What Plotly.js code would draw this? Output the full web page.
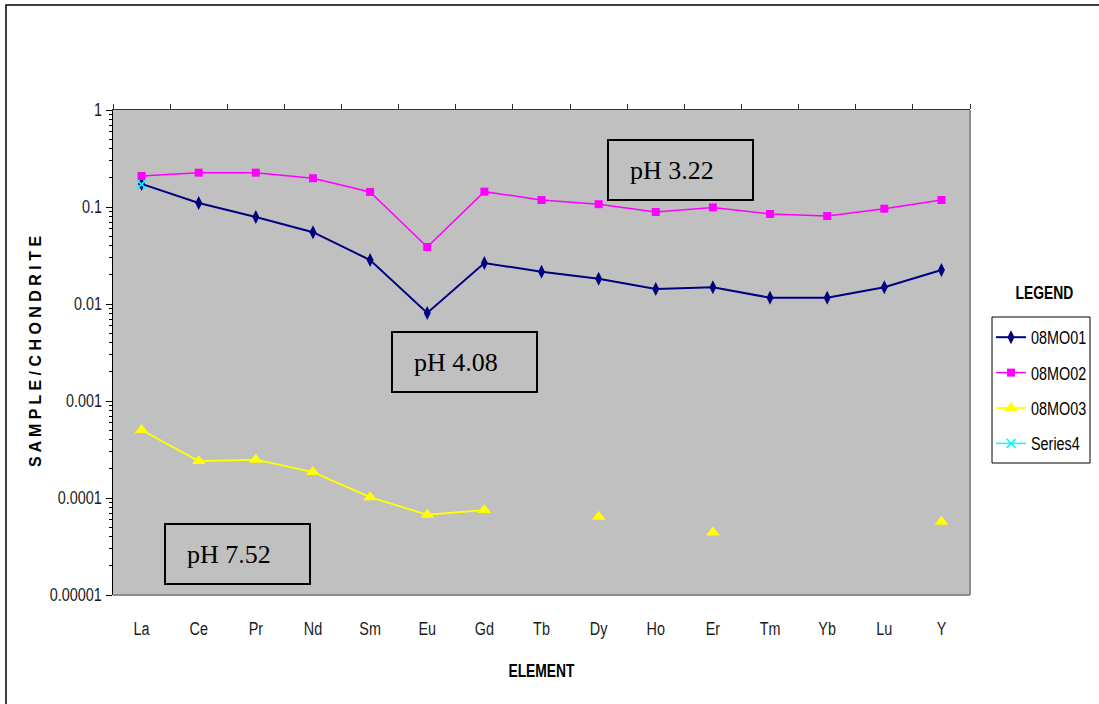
<!DOCTYPE html>
<html>
<head>
<meta charset="utf-8">
<script src="https://cdn.plot.ly/plotly-3.0.1.min.js"></script>
<style>html,body{margin:0;padding:0;background:#fff;}#chart{width:1099px;height:704px;}</style>
</head>
<body>
<div id="chart"></div>
<script>
const elements = ['La','Ce','Pr','Nd','Sm','Eu','Gd','Tb','Dy','Ho','Er','Tm','Yb','Lu','Y'];
const mo01 = [0.173,0.11,0.079,0.055,0.0284,0.0081,0.0265,0.0215,0.0182,0.0143,0.0149,0.0116,0.0116,0.0149,0.0224];
const mo02 = [0.209,0.226,0.226,0.198,0.143,0.0387,0.144,0.118,0.107,0.0888,0.099,0.0847,0.0807,0.096,0.118];
const mo03 = [0.000502,0.00024,0.000248,0.000185,0.000102,0.0000672,0.000075,null,0.000064,null,0.000044,null,null,null,0.000057];
const series4 = [0.171,null,null,null,null,null,null,null,null,null,null,null,null,null,null];
const seriesNames = ['08MO01','08MO02','08MO03','Series4'];
const yTickVals = [1,0.1,0.01,0.001,0.0001,0.00001];
const yTickText = ['1','0.1','0.01','0.001','0.0001','0.00001'];
const phLabels = ['pH 3.22','pH 4.08','pH 7.52'];

const W = 1099, H = 704;
const L = 113, R = 970, T = 110, B = 595;
const px = v => (v - L) / (R - L);
const py = v => (B - v) / (B - T);
const sans = 'Liberation Sans, Arial, sans-serif';

const traces = [
  {x: elements, y: mo01, name: seriesNames[0], type: 'scatter', mode: 'lines+markers', legendgroup: 'a',
   line: {color: '#000080', width: 2}, marker: {symbol: 'diamond-tall', size: 10, color: '#000080'}},
  {x: elements, y: mo02, name: seriesNames[1], type: 'scatter', mode: 'lines+markers', legendgroup: 'b',
   line: {color: '#FF00FF', width: 1.5}, marker: {symbol: 'square', size: 8, color: '#FF00FF'}},
  {x: elements, y: mo03, name: seriesNames[2], type: 'scatter', mode: 'lines+markers', legendgroup: 'c', connectgaps: false,
   line: {color: '#FFFF00', width: 1.8}, marker: {symbol: 'triangle-up', size: 12, color: '#FFFF00'}},
  {x: elements, y: series4, name: seriesNames[3], type: 'scatter', mode: 'lines+markers', legendgroup: 'd',
   line: {color: '#00FFFF', width: 1.5}, marker: {symbol: 'x-thin', size: 9, line: {color: '#00FFFF', width: 1.5}, color: '#00FFFF'}},
  {x: [], y: [], xaxis: 'x2', yaxis: 'y', showlegend: false, hoverinfo: 'skip', type: 'scatter'}
];

const boundaries = [];
for (let i = 0; i <= elements.length; i++) boundaries.push(i - 0.5);

const boxes = [[608,140,753,200],[392,332,537,392],[165,524,310,584]];
const shapes = [
  {type: 'rect', xref: 'paper', yref: 'paper', x0: px(6), y0: py(5), x1: px(W + 20), y1: py(H + 20),
   line: {color: '#000', width: 1.5}, fillcolor: 'rgba(0,0,0,0)', layer: 'below'},
  {type: 'line', xref: 'paper', yref: 'paper', x0: 1, x1: 1, y0: 0, y1: 1, line: {color: '#8c8c8c', width: 2}},
  {type: 'line', xref: 'paper', yref: 'paper', x0: 0, x1: 1, y0: 0, y1: 0, line: {color: '#8c8c8c', width: 2}},
  {type: 'rect', xref: 'paper', yref: 'paper', x0: px(992), x1: px(1090), y0: py(463), y1: py(317),
   line: {color: '#000', width: 1}, fillcolor: 'rgba(0,0,0,0)'}
];
boxes.forEach(b => shapes.push({type: 'rect', xref: 'paper', yref: 'paper', x0: px(b[0]), x1: px(b[2]), y0: py(b[3]), y1: py(b[1]),
  line: {color: '#000', width: 2}, fillcolor: '#c0c0c0'}));

const annotations = boxes.map((b, i) => ({
  xref: 'paper', yref: 'paper', x: px(b[0] + 20), y: py((b[1] + b[3]) / 2), xanchor: 'left', yanchor: 'middle',
  text: phLabels[i], showarrow: false, font: {family: 'Liberation Serif, Times New Roman, serif', size: 26, color: '#000'}
}));
annotations.push({xref: 'paper', yref: 'paper', x: px(1044), y: py(293), text: '<b>LEGEND</b>', showarrow: false,
  xanchor: 'center', yanchor: 'middle', font: {family: sans, size: 18, color: '#000'}});
annotations.push({xref: 'paper', yref: 'paper', x: px(35), y: py(352), textangle: -90, showarrow: false,
  xanchor: 'center', yanchor: 'middle', text: '<b>' + 'SAMPLE/CHONDRITE'.split('').join(' ') + '</b>',
  font: {family: sans, size: 16, color: '#000'}});

const layout = {
  width: W, height: H,
  margin: {l: L, r: W - R, t: T, b: H - B, pad: 0},
  paper_bgcolor: '#fff', plot_bgcolor: '#c0c0c0',
  showlegend: true,
  xaxis: {type: 'category', categoryarray: elements, range: [-0.5, elements.length - 0.5],
    showgrid: false, zeroline: false, showline: false, ticks: '', ticklabelstandoff: 21,
    tickfont: {family: sans, size: 18, color: '#1a1a1a'},
    title: {text: '<b>ELEMENT</b>', font: {family: sans, size: 18, color: '#000'}, standoff: 26}},
  xaxis2: {overlaying: 'x', side: 'top', anchor: 'y', type: 'linear', range: [-0.5, elements.length - 0.5],
    showgrid: false, zeroline: false, showline: true, linecolor: '#333', linewidth: 1.5,
    ticks: 'outside', ticklen: 5, tickcolor: '#333', tickwidth: 1, tickmode: 'array', tickvals: boundaries, showticklabels: false},
  yaxis: {type: 'log', range: [-5, 0], showgrid: false, zeroline: false,
    showline: true, linecolor: '#000', linewidth: 1.5,
    ticks: 'outside', ticklen: 6, tickcolor: '#000', tickmode: 'array', tickvals: yTickVals, ticktext: yTickText,
    minor: {ticks: 'outside', ticklen: 3, tickcolor: '#000', dtick: 'D1', showgrid: false},
    tickfont: {family: sans, size: 18, color: '#1a1a1a'}},
  legend: {xref: 'container', yref: 'container', x: 991 / W, y: 1 - 319 / H, xanchor: 'left', yanchor: 'top',
    bgcolor: 'rgba(0,0,0,0)', borderwidth: 0,
    font: {family: sans, size: 18, color: '#000'}, traceorder: 'grouped', tracegroupgap: 9, itemwidth: 30},
  shapes: shapes,
  annotations: annotations
};

function squeeze(nodes, f) {
  nodes.forEach(t => {
    const w = t.getComputedTextLength();
    if (w > 0) {
      t.setAttribute('textLength', (w * f).toFixed(1));
      t.setAttribute('lengthAdjust', 'spacingAndGlyphs');
    }
  });
}

Plotly.newPlot('chart', traces, layout, {displayModeBar: false, staticPlot: true}).then(gd => {
  const q = s => Array.from(gd.querySelectorAll(s));
  squeeze(q('.xtick text'), 0.8);
  squeeze(q('.ytick text'), 0.8);
  squeeze(q('text.legendtext'), 0.8);
  squeeze(q('.g-xtitle text'), 0.77);
  squeeze(q('.annotation-text').filter(t => t.textContent === 'LEGEND'), 0.77);
});
</script>
</body>
</html>
